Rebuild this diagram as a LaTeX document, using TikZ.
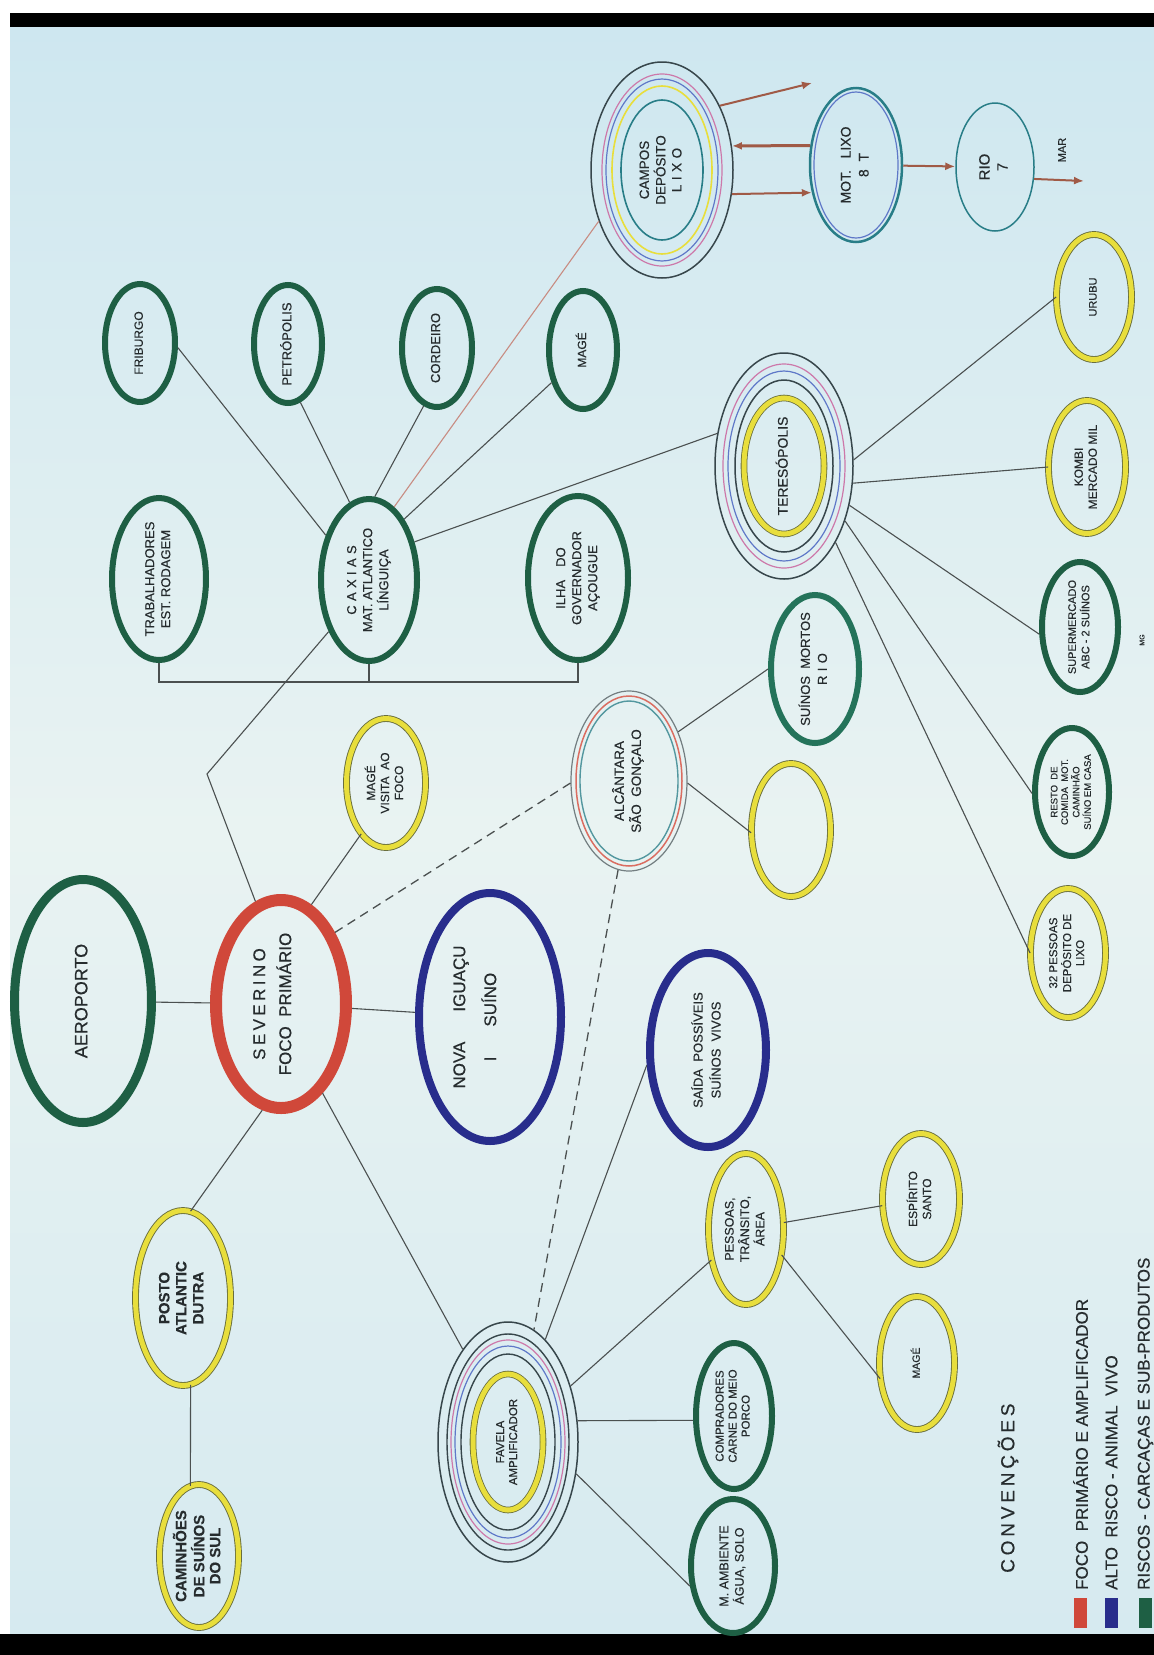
\documentclass[tikz,border=0pt]{standalone}
\usepackage{fontspec}
\setmainfont{Liberation Sans}[FakeBold=0.4]
\newfontfamily\widefont[LetterSpace=20,FakeBold=0.4]{Liberation Sans}
\usepackage{graphicx}
\usetikzlibrary{shapes.geometric,arrows.meta}
\definecolor{bgtop}{RGB}{206,231,240}
\definecolor{bgmid}{RGB}{233,243,242}
\definecolor{bgbot}{RGB}{214,234,240}
\definecolor{grn}{RGB}{30,95,68}
\definecolor{grnt}{RGB}{36,115,90}
\definecolor{redf}{RGB}{208,72,58}
\definecolor{blu}{RGB}{40,45,140}
\definecolor{ylw}{RGB}{232,222,60}
\definecolor{ylwe}{RGB}{105,110,60}
\definecolor{txt}{RGB}{38,44,46}
\definecolor{lin}{RGB}{75,80,80}
\definecolor{brn}{RGB}{160,90,70}
\definecolor{pnk}{RGB}{205,120,170}
\definecolor{rblu}{RGB}{95,120,200}
\definecolor{teal}{RGB}{40,125,135}
\definecolor{rose}{RGB}{200,140,130}
\definecolor{dark}{RGB}{55,70,75}
\newcommand{\rtx}[1]{\rotatebox{90}{\begin{tabular}{@{}c@{}}#1\end{tabular}}}
\begin{document}
\begin{tikzpicture}[x=1pt,y=-1pt,
  base/.style={ellipse, inner sep=-6pt, text=txt},
  sz/.style 2 args={minimum width=#1pt, minimum height=#2pt},
  fs/.style 2 args={font=\fontsize{#1}{#2}\selectfont},
  grnnode/.style={base, draw=grn, line width=6pt},
  tealnode/.style={base, draw=grnt, line width=6pt},
  ylwnode/.style={base, draw=ylwe, line width=0.9pt, double=ylw, double distance=5pt},
  rednode/.style={base, draw=redf, line width=12pt},
  blunode/.style={base, draw=blu, line width=8pt},
  ringnode/.style={base, draw=dark, line width=1.5pt},
  ln/.style={draw=lin, line width=1.1pt},
  dsh/.style={draw=lin, line width=1.3pt, dash pattern=on 9pt off 6pt},
  arr/.style={draw=brn, line width=2pt, -{Latex[length=10pt,width=8pt]}},
  lgtext/.style={rotate=90, anchor=west, text=txt, inner sep=0pt}]
\useasboundingbox (0,0) rectangle (1154,1655);
\fill[white] (0,0) rectangle (1154,1655);
\fill[top color=bgtop, bottom color=bgbot, middle color=bgmid] (10,27) rectangle (1154,1634);
\fill[black] (10,13) rectangle (1154,27);
\fill[black] (0,1634) rectangle (1154,1655);

% top row
\node[grnnode, sz={70}{118}, fs={12}{14}] (fri) at (140,343) {\rtx{FRIBURGO}};
\node[grnnode, sz={68}{118}, fs={13}{15}] (pet) at (288,344) {\rtx{PETRÓPOLIS}};
\node[grnnode, sz={70}{118}, fs={13}{15}] (cor) at (437,348) {\rtx{CORDEIRO}};
\node[grnnode, sz={68}{118}, fs={12}{14}] (mgu) at (583,350) {\rtx{MAGÉ}};
\node[grnnode, sz={94}{162}, fs={13}{16}] (tra) at (159,579) {\rtx{TRABALHADORES\\EST. RODAGEM}};
\node[grnnode, sz={96}{162}, fs={13}{16}] (cax) at (369,580) {\rtx{C\,\,A\,\,X\,\,I\,\,A\,\,S\\MAT. ATLANTICO\\LÍNGUIÇA}};
\node[grnnode, sz={100}{164}, fs={13}{16}] (ilh) at (578,578) {\rtx{ILHA\quad DO\\GOVERNADOR\\AÇOUGUE}};

% campos / mot / rio
\node[ringnode, sz={142}{216}, fs={13.5}{16}] (campos) at (662,170) {\rtx{CAMPOS\\DEPÓSITO\\L\,\,I\,\,X\,\,O}};
\foreach \rx/\ry/\c/\w in {60/96/pnk/1.2, 56/91/rblu/1.2, 50/84/ylw/1.6, 41/70/teal/1.6}
  \draw[\c, line width=\w pt] (campos.center) ellipse [x radius=\rx pt, y radius=\ry pt];
\node[base, draw=teal, line width=2.5pt, sz={92}{154}, fs={14}{18}] (mot) at (856,165) {\rtx{MOT.\ \ \ LIXO\\8\ \ T}};
\draw[rblu, line width=1.2pt] (mot.center) ellipse [x radius=42pt, y radius=73pt];
\node[base, draw=teal, line width=1.5pt, sz={78}{128}, fs={15}{18}] (rio) at (995,167) {\rtx{RIO\\7}};
\coordinate (m1) at (812,83);
\coordinate (m2) at (1084,181);
\node[fs={11}{12}, text=txt, rotate=90, inner sep=1pt] (mar) at (1062,150) {MAR};

% teresopolis
\node[ringnode, sz={138}{226}, fs={14}{16}] (ter) at (784,466) {\rtx{TERESÓPOLIS}};
\foreach \rx/\ry/\c/\w in {61/102/pnk/1.2, 56/95/rblu/1.2, 49/86/dark/1.5}
  \draw[\c, line width=\w pt] (ter.center) ellipse [x radius=\rx pt, y radius=\ry pt];
\draw[draw=ylwe, line width=0.8pt, double=ylw, double distance=5pt] (ter.center) ellipse [x radius=40pt, y radius=68pt];

\node[ylwnode, sz={75}{125}, fs={11}{13}] (uru) at (1094,297) {\rtx{URUBU}};
\node[ylwnode, sz={77}{133}, fs={12}{14}] (kom) at (1087,467) {\rtx{KOMBI\\MERCADO MIL}};
\node[grnnode, sz={76}{130}, fs={11}{13}] (sup) at (1080,627) {\rtx{SUPERMERCADO\\ABC - 2 SUÍNOS}};
\node[grnnode, sz={74}{128}, fs={9.5}{10.5}] (res) at (1072,792) {\rtx{RESTO\ \ DE\\COMIDA\ \ MOT.\\CAMINHÃO\\SUÍNO EM CASA}};
\node[ylwnode, sz={75}{129}, fs={11.5}{13}] (p32) at (1068,953) {\rtx{32 PESSOAS\\DEPÓSITO DE\\LIXO}};
\node[fs={7}{8}, text=txt, rotate=90, inner sep=1pt] (mg) at (1142,640) {MG};

% middle row
\node[grnnode, line width=9pt, sz={137}{243}, fs={18}{22}] (aer) at (83,1001) {\rtx{AEROPORTO}};
\node[rednode, sz={130}{208}, fs={17}{26}] (sev) at (281,1004) {\rtx{{\widefont SEVERINO}\\FOCO\ \ PRIMÁRIO\\[-10pt]\mbox{}}};
\node[blunode, sz={142}{248}, fs={17}{31}] (nov) at (490,1017) {\rtx{NOVA\hspace{30pt}IGUAÇU\\I\hspace{30pt}SUÍNO\\\mbox{}}};
\node[ylwnode, sz={79}{129}, fs={12}{14}] (mvf) at (386,783) {\rtx{MAGÉ\\VISITA\ \ AO\\FOCO}};
\coordinate (crn) at (207,774);

% alcantara
\node[base, draw=dark!70, line width=1.2pt, sz={116}{180}, fs={13.5}{17}] (alc) at (629,781) {\rtx{ALCÂNTARA\\SÃO\ \ GONÇALO}};
\draw[redf!80, line width=1.5pt] (alc.center) ellipse [x radius=53pt, y radius=85pt];
\draw[teal!80, line width=1.4pt] (alc.center) ellipse [x radius=49pt, y radius=80pt];
\node[tealnode, sz={88}{148}, fs={13}{17}] (smr) at (815,669) {\rtx{SUÍNOS\ \ MORTOS\\R\,\,I\,\,O}};
\node[ylwnode, sz={79}{133}] (yel) at (791,830) {};
\node[blunode, sz={116}{194}, fs={13}{18}] (sai) at (708,1050) {\rtx{SAÍDA\ \ POSSÍVEIS\\SUÍNOS\ \ VIVOS}};

% bottom left
\node[ylwnode, sz={95}{175}, fs={15}{17}] (pos) at (183,1298) {\rtx{\textbf{POSTO}\\\textbf{ATLANTIC}\\\textbf{DUTRA}}};
\node[ylwnode, sz={79}{143}, fs={15}{16}] (cam) at (199,1556) {\rtx{\textbf{CAMINHÕES}\\\textbf{DE SUÍNOS}\\\textbf{DO SUL}}};

% favela
\node[ringnode, sz={140}{240}, fs={11.5}{13}] (fav) at (508,1442) {\rtx{FAVELA\\AMPLIFICADOR}};
\foreach \rx/\ry/\c/\w in {61/108/dark/1.4, 57/102/pnk/1.2, 53/96/rblu/1.2, 47/88/dark/1.4}
  \draw[\c, line width=\w pt] (fav.center) ellipse [x radius=\rx pt, y radius=\ry pt];
\draw[draw=ylwe, line width=0.8pt, double=ylw, double distance=5pt] (fav.center) ellipse [x radius=35pt, y radius=68pt];

\node[ylwnode, sz={75}{151}, fs={12.5}{15}] (pes) at (746,1229) {\rtx{PESSOAS,\\TRÂNSITO,\\ÁREA}};
\node[ylwnode, sz={77}{131}, fs={12}{14}] (esp) at (921,1199) {\rtx{ESPÍRITO\\SANTO}};
\node[ylwnode, sz={75}{133}, fs={10.5}{12}] (mg2) at (917,1363) {\rtx{MAGÉ}};
\node[grnnode, sz={76}{146}, fs={11.5}{13}] (com) at (734,1416) {\rtx{COMPRADORES\\CARNE DO MEIO\\PORCO}};
\node[grnnode, sz={84}{134}, fs={12.5}{15}] (amb) at (733,1566) {\rtx{M. AMBIENTE\\ÁGUA, SOLO}};

% legend
\node[lgtext, fs={19}{22}] (lgh) at (1008,1573) {\widefont CONVENÇÕES};
\fill[redf] (1074,1598) rectangle (1087,1628);
\fill[blu] (1105,1598) rectangle (1118,1628);
\fill[grn] (1139,1598) rectangle (1152,1628);
\node[lgtext, fs={17}{19}] (lg1) at (1080.5,1590) {FOCO\ \ PRIMÁRIO\ E\ AMPLIFICADOR};
\node[lgtext, fs={17}{19}] (lg2) at (1111.5,1590) {ALTO\ \ RISCO - ANIMAL\ \ VIVO};
\node[lgtext, fs={17}{19}] (lg3) at (1145.5,1590) {RISCOS - CARCAÇAS\ E\ SUB-PRODUTOS};

% connectors
\draw[ln] (sev) -- (aer);
\draw[ln] (sev) -- (nov);
\draw[ln] (sev.104) -- (crn) -- (cax.232);
\draw[ln] (cax.134) -- (fri.-7);
\draw[ln] (cax.104) -- (pet.-78);
\draw[ln] (cax.86) -- (cor.-103);
\draw[ln] (cax.60) -- (mgu.-134);
\draw[rose, line width=1.1pt] (cax.71) -- (campos.-141);
\draw[ln] (cax.40) -- (ter.154);
\draw[ln] (tra.south) -- ++(0,19) -| (ilh.south);
\draw[ln] (cax.south) -- ++(0,18);
\draw[ln] (sev.73) -- (mvf.-116);
\draw[dsh] (sev.53) -- (alc.182);
\draw[ln] (ter.5) -- (uru.180);
\draw[ln] (ter.-14) -- (kom.180);
\draw[ln] (ter.-31) -- (sup.190);
\draw[ln] (ter.-42) -- (res.182);
\draw[ln] (ter.-56) -- (p32.180);
\draw[ln] (alc.45) -- (smr.180);
\draw[ln] (alc.-2) -- (yel.184);
\draw[dsh] (alc.-97) -- (fav.77);
\draw[ln] (fav.70) -- (sai.194);
\draw[ln] (sev.-65) -- (fav.116);
\draw[ln] (sev.-100) -- (pos.85);
\draw[ln] (pos.-85) -- (cam.97);
\draw[ln] (fav) -- (pes);
\draw[ln] (fav.17) -- (com.186);
\draw[ln] (fav.-25) -- (amb.205);
\draw[ln] (pes) -- (esp);
\draw[ln] (pes.-36) -- (mg2.203);
\draw[arr] (campos.48) -- (m1);
\draw[arr, line width=3pt] (mot.157) -- (campos.19);
\draw[arr] (campos.-19) -- (mot.212);
\draw[arr] (mot) -- (rio);
\draw[arr] (rio.-17) -- (m2);
\end{tikzpicture}
\end{document}
